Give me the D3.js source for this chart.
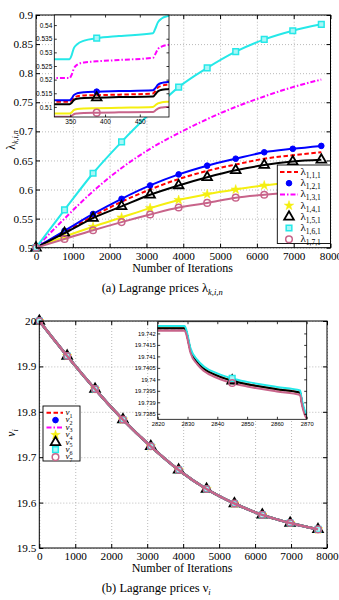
<!DOCTYPE html>
<html>
<head>
<meta charset="utf-8">
<script src="https://cdn.jsdelivr.net/npm/d3@7"></script>
<style>
  body { margin: 0; background: #fff; }
  svg text { font-family: "Liberation Serif", "Times New Roman", serif; fill: #000; }
</style>
</head>
<body>
<div id="chart"></div>
<script>
// ---- data ----
const iterations = [0, 775, 1550, 2325, 3100, 3875, 4650, 5425, 6200, 6975, 7750];
const lambda111 = [0.5, 0.527, 0.554, 0.579, 0.600, 0.618, 0.632, 0.643, 0.653, 0.659, 0.664];
const lambda121 = [0.5, 0.529, 0.558, 0.584, 0.607, 0.626, 0.641, 0.653, 0.664, 0.670, 0.675];
const lambda131 = [0.5, 0.550, 0.597, 0.637, 0.670, 0.697, 0.721, 0.742, 0.760, 0.776, 0.789];
const lambda141 = [0.5, 0.519, 0.536, 0.552, 0.568, 0.582, 0.592, 0.600, 0.607, 0.612, 0.615];
const lambda151 = [0.5, 0.525, 0.551, 0.571, 0.591, 0.607, 0.621, 0.633, 0.642, 0.648, 0.651];
const lambda161 = [0.5, 0.565, 0.628, 0.682, 0.731, 0.776, 0.809, 0.837, 0.858, 0.873, 0.884];
const lambda171 = [0.5, 0.515, 0.530, 0.544, 0.557, 0.569, 0.577, 0.586, 0.591, 0.595, 0.598];

// zoomed window of the lambda plot
const zoomIter = [320, 349, 352, 355, 360, 370, 388, 420, 469, 472, 476, 482, 490, 500];
const zoom111 = [0.5119, 0.5119, 0.5124, 0.5134, 0.5139, 0.5142, 0.5143, 0.5145, 0.5149, 0.5157, 0.5171, 0.5178, 0.5182, 0.5184];
const zoom121 = [0.5124, 0.5124, 0.5131, 0.5143, 0.5150, 0.5154, 0.5156, 0.5158, 0.5161, 0.5168, 0.5181, 0.5188, 0.5191, 0.5193];
const zoom131 = [0.5206, 0.5206, 0.5218, 0.5240, 0.5255, 0.5263, 0.5267, 0.5272, 0.5280, 0.5292, 0.5312, 0.5322, 0.5327, 0.5331];
const zoom141 = [0.5076, 0.5076, 0.5080, 0.5088, 0.5092, 0.5094, 0.5095, 0.5097, 0.5100, 0.5105, 0.5113, 0.5117, 0.5119, 0.5120];
const zoom151 = [0.5110, 0.5110, 0.5115, 0.5125, 0.5130, 0.5133, 0.5134, 0.5136, 0.5138, 0.5145, 0.5157, 0.5163, 0.5165, 0.5167];
const zoom161 = [0.5275, 0.5275, 0.5290, 0.5315, 0.5330, 0.5343, 0.5352, 0.5360, 0.5370, 0.5385, 0.5410, 0.5425, 0.5433, 0.5440];
const zoom171 = [0.5064, 0.5064, 0.5067, 0.5073, 0.5076, 0.5078, 0.5079, 0.5080, 0.5081, 0.5086, 0.5094, 0.5098, 0.5100, 0.5101];

// nu prices (all seven users lie on top of each other at this scale)
const nuMain = [20, 19.923, 19.850, 19.783, 19.724, 19.672, 19.630, 19.598, 19.573, 19.555, 19.541];

// zoomed window of the nu plot
const nuZoomIter = [2815, 2829, 2829.6, 2830, 2831, 2833.3, 2835.5, 2840, 2845, 2850, 2860, 2867.8, 2868.3, 2869.2, 2870, 2872];
const nuZoomUpper = [19.74232, 19.74232, 19.74216, 19.74195, 19.74136, 19.74085, 19.74056, 19.74026, 19.74004, 19.73989, 19.73967, 19.73952, 19.73916, 19.73870, 19.73848, 19.73810];
const nuZoomMiddle = [19.74222, 19.74222, 19.74206, 19.74185, 19.74126, 19.74075, 19.74046, 19.74016, 19.73994, 19.73979, 19.73957, 19.73942, 19.73906, 19.73860, 19.73838, 19.73800];
const nuZoomLower = [19.74212, 19.74212, 19.74196, 19.74175, 19.74116, 19.74065, 19.74036, 19.74006, 19.73984, 19.73969, 19.73947, 19.73932, 19.73896, 19.73850, 19.73828, 19.73790];

// ticks
const iterTicks = [0, 1000, 2000, 3000, 4000, 5000, 6000, 7000, 8000];
const lambdaTicks = [0.5, 0.55, 0.6, 0.65, 0.7, 0.75, 0.8, 0.85, 0.9];
const lambdaTickLabels = ["0.5", "0.55", "0.6", "0.65", "0.7", "0.75", "0.8", "0.85", "0.9"];
const zoomIterTicks = [350, 400, 450];
const zoomLambdaTicks = [0.51, 0.515, 0.52, 0.525, 0.53, 0.535, 0.54];
const zoomLambdaLabels = ["0.51", "0.515", "0.52", "0.525", "0.53", "0.535", "0.54"];
const nuTicks = [19.5, 19.6, 19.7, 19.8, 19.9, 20];
const nuTickLabels = ["19.5", "19.6", "19.7", "19.8", "19.9", "20"];
const nuZoomIterTicks = [2820, 2830, 2840, 2850, 2860, 2870];
const nuZoomTicks = [19.7385, 19.739, 19.7395, 19.74, 19.7405, 19.741, 19.7415, 19.742];
const nuZoomLabels = ["19.7385", "19.739", "19.7395", "19.74", "19.7405", "19.741", "19.7415", "19.742"];

// ---- styles ----
const styles = [
  { sub: "1", color: "#ff0000", dash: "4.5,2.5", marker: null },
  { sub: "2", color: "#0000ff", dash: null, marker: "dot" },
  { sub: "3", color: "#ff00ff", dash: "5,2,1.5,2", marker: null },
  { sub: "4", color: "#f5ef10", dash: null, marker: "star" },
  { sub: "5", color: "#000000", dash: null, marker: "triangle" },
  { sub: "6", color: "#25e8e8", dash: null, marker: "square" },
  { sub: "7", color: "#c8648a", dash: null, marker: "circle" },
];
const lambdaMain = [lambda111, lambda121, lambda131, lambda141, lambda151, lambda161, lambda171];
const lambdaZoom = [zoom111, zoom121, zoom131, zoom141, zoom151, zoom161, zoom171];
const nuZoom = [nuZoomMiddle, nuZoomMiddle, nuZoomMiddle, nuZoomMiddle, nuZoomMiddle, nuZoomUpper, nuZoomLower];
const drawOrder = [0, 1, 2, 3, 4, 5, 6];

const svg = d3.select("#chart").append("svg").attr("width", 339).attr("height", 600);

function drawMarker(g, type, cx, cy, color) {
  if (type === "dot") {
    g.append("circle").attr("cx", cx).attr("cy", cy).attr("r", 2.8)
      .attr("fill", color).attr("stroke", color);
  } else if (type === "circle") {
    g.append("circle").attr("cx", cx).attr("cy", cy).attr("r", 3.3)
      .attr("fill", "none").attr("stroke", color).attr("stroke-width", 1.5);
  } else if (type === "triangle") {
    g.append("path").attr("d", d3.symbol(d3.symbolTriangle, 40)())
      .attr("transform", `translate(${cx},${cy})`)
      .attr("fill", "none").attr("stroke", color).attr("stroke-width", 1.8);
  } else if (type === "square") {
    g.append("path").attr("d", d3.symbol(d3.symbolSquare, 32)())
      .attr("transform", `translate(${cx},${cy})`)
      .attr("fill", "#a8f6f6").attr("stroke", color).attr("stroke-width", 1.5);
  } else if (type === "star") {
    g.append("path").attr("d", d3.symbol(d3.symbolStar, 28)())
      .attr("transform", `translate(${cx},${cy})`)
      .attr("fill", color).attr("stroke", color).attr("stroke-width", 0.5);
  }
}

function drawGrid(box, x, y, xTicks, yTicks) {
  const g = svg.append("g");
  g.append("g")
    .attr("transform", `translate(0,${box.bottom})`)
    .call(d3.axisBottom(x).tickValues(xTicks).tickSize(-(box.bottom - box.top)).tickFormat(""));
  g.append("g")
    .attr("transform", `translate(${box.left},0)`)
    .call(d3.axisLeft(y).tickValues(yTicks).tickSize(-(box.right - box.left)).tickFormat(""));
  g.selectAll(".domain").remove();
  g.selectAll(".tick line")
    .attr("stroke", "#a8a8a8").attr("stroke-width", 0.8).attr("stroke-dasharray", "1,2");
}

function drawFrame(box, x, y, xTicks, yTicks, yLabels, opts) {
  const g = svg.append("g");
  const len = opts.tickLen;
  g.append("g").attr("transform", `translate(0,${box.bottom})`)
    .call(d3.axisBottom(x).tickValues(xTicks).tickSizeInner(-len).tickSizeOuter(0)
      .tickPadding(opts.xPad).tickFormat(d => d));
  g.append("g").attr("transform", `translate(${box.left},0)`)
    .call(d3.axisLeft(y).tickValues(yTicks).tickSizeInner(-len).tickSizeOuter(0)
      .tickPadding(opts.yPad).tickFormat((d, i) => yLabels[i]));
  g.append("g").attr("transform", `translate(0,${box.top})`)
    .call(d3.axisTop(x).tickValues(xTicks).tickSizeInner(-len).tickSizeOuter(0).tickFormat(""));
  g.append("g").attr("transform", `translate(${box.right},0)`)
    .call(d3.axisRight(y).tickValues(yTicks).tickSizeInner(-len).tickSizeOuter(0).tickFormat(""));
  g.selectAll(".domain").remove();
  g.selectAll("g").attr("font-family", opts.font).attr("font-size", opts.fontSize);
  g.selectAll(".tick line").attr("stroke", "#000").attr("stroke-width", opts.stroke);
  g.selectAll(".tick text")
    .style("font-family", opts.font).style("font-size", opts.fontSize + "px").attr("fill", "#000");
  g.append("rect")
    .attr("x", box.left).attr("y", box.top)
    .attr("width", box.right - box.left).attr("height", box.bottom - box.top)
    .attr("fill", "none").attr("stroke", "#000").attr("stroke-width", opts.stroke);
}

function drawSeries(g, xs, series, x, y, lineWidth, markerAt) {
  drawOrder.forEach(i => {
    const s = styles[i];
    const vals = series[i];
    const line = d3.line()
      .x((d, j) => x(xs[j]))
      .y(d => y(d))
      .curve(d3.curveMonotoneX);
    g.append("path")
      .attr("d", line(vals))
      .attr("fill", "none")
      .attr("stroke", s.color)
      .attr("stroke-width", lineWidth)
      .attr("stroke-dasharray", s.dash);
    if (s.marker) {
      markerAt.forEach(j => drawMarker(g, s.marker, x(xs[j]), y(vals[j]), s.color));
    }
  });
}

function subText(g, x, y, main, sub, size, subSize, anchor, italicMain, italicSub) {
  const t = g.append("text").attr("x", x).attr("y", y)
    .attr("text-anchor", anchor || "start").style("font-size", size + "px");
  t.append("tspan").text(main).style("font-style", italicMain ? "italic" : "normal");
  t.append("tspan").attr("dy", size * 0.28).style("font-size", subSize + "px")
    .style("font-style", italicSub ? "italic" : "normal").text(sub);
  return t;
}

// ================= (a) lambda panel =================
const boxA = { left: 36, right: 330.5, top: 15, bottom: 247.7 };
const xA = d3.scaleLinear().domain([0, 8000]).range([boxA.left, boxA.right]);
const yA = d3.scaleLinear().domain([0.5, 0.9]).range([boxA.bottom, boxA.top]);

drawGrid(boxA, xA, yA, iterTicks, lambdaTicks);
const plotA = svg.append("g");
drawSeries(plotA, iterations, lambdaMain, xA, yA, 2, d3.range(iterations.length));
drawFrame(boxA, xA, yA, iterTicks, lambdaTicks, lambdaTickLabels,
  { tickLen: 4, xPad: 4, yPad: 3, stroke: 1, font: "Liberation Serif", fontSize: 11.2 });

// inset of panel (a)
const insA = { left: 54.3, right: 169, top: 15, bottom: 117 };
const xIA = d3.scaleLinear().domain([327, 492]).range([insA.left, insA.right]);
const yIA = d3.scaleLinear().domain([0.5063, 0.5437]).range([insA.bottom, insA.top]);
svg.append("rect").attr("x", insA.left).attr("y", insA.top)
  .attr("width", insA.right - insA.left).attr("height", insA.bottom - insA.top).attr("fill", "#fff");
svg.append("clipPath").attr("id", "clipA").append("rect")
  .attr("x", insA.left).attr("y", insA.top)
  .attr("width", insA.right - insA.left).attr("height", insA.bottom - insA.top);
const insetA = svg.append("g").attr("clip-path", "url(#clipA)");
drawSeries(insetA, zoomIter, lambdaZoom, xIA, yIA, 2, []);
[[1, "dot"], [4, "triangle"], [5, "square"], [6, "circle"]].forEach(([i, m]) => {
  drawMarker(insetA, m, xIA(zoomIter[6]), yIA(lambdaZoom[i][6]), styles[i].color);
});
drawFrame(insA, xIA, yIA, zoomIterTicks, zoomLambdaTicks, zoomLambdaLabels,
  { tickLen: 2.5, xPad: 2.5, yPad: 2, stroke: 0.8, font: "Liberation Sans", fontSize: 6.5 });

// legend (a)
const legA = svg.append("g");
legA.append("rect").attr("x", 277.3).attr("y", 165).attr("width", 53.2).attr("height", 78.5)
  .attr("fill", "#fff").attr("stroke", "#000").attr("stroke-width", 0.9);
styles.forEach((s, i) => {
  const cy = 172 + i * 11.2;
  if (!s.marker) {
    legA.append("line").attr("x1", 280).attr("x2", 298).attr("y1", cy).attr("y2", cy)
      .attr("stroke", s.color).attr("stroke-width", 2).attr("stroke-dasharray", s.dash);
  } else {
    drawMarker(legA, s.marker, 289, cy, s.color);
  }
  subText(legA, 300.5, cy + 3, "λ", "1," + s.sub + ",1", 11, 7.5, "start", false, false);
});

// labels (a)
svg.append("text").attr("x", 182.5).attr("y", 271.5).attr("text-anchor", "middle")
  .style("font-size", "12px").text("Number of Iterations");
const yLabA = svg.append("g").attr("transform", "translate(15,140) rotate(-90)");
subText(yLabA, 0, 0, "λ", "k,i,n", 11.5, 8, "middle", false, true);
subText(svg, 101.7, 291.5, "(a)  Lagrange prices λ", "k,i,n", 12.5, 8.5, "start", false, true);

// ================= (b) nu panel =================
const boxB = { left: 39.3, right: 327, top: 321, bottom: 548 };
const xB = d3.scaleLinear().domain([0, 8000]).range([boxB.left, boxB.right]);
const yB = d3.scaleLinear().domain([19.5, 20]).range([boxB.bottom, boxB.top]);

drawGrid(boxB, xB, yB, iterTicks, nuTicks);
const plotB = svg.append("g");
drawSeries(plotB, iterations, styles.map(() => nuMain), xB, yB, 2.5, d3.range(iterations.length));
drawFrame(boxB, xB, yB, iterTicks, nuTicks, nuTickLabels,
  { tickLen: 4, xPad: 4, yPad: 3, stroke: 1, font: "Liberation Serif", fontSize: 11.2 });

// inset of panel (b)
const insB = { left: 157.7, right: 306.7, top: 321.7, bottom: 419.3 };
const xIB = d3.scaleLinear().domain([2820, 2870]).range([insB.left, insB.right]);
const yIB = d3.scaleLinear().domain([19.73826, 19.74251]).range([insB.bottom, insB.top]);
svg.append("rect").attr("x", insB.left).attr("y", insB.top)
  .attr("width", insB.right - insB.left).attr("height", insB.bottom - insB.top).attr("fill", "#fff");
svg.append("clipPath").attr("id", "clipB").append("rect")
  .attr("x", insB.left).attr("y", insB.top)
  .attr("width", insB.right - insB.left).attr("height", insB.bottom - insB.top);
const insetB = svg.append("g").attr("clip-path", "url(#clipB)");
drawSeries(insetB, nuZoomIter, nuZoom, xIB, yIB, 2, []);
[[4, "triangle"], [5, "square"], [6, "circle"]].forEach(([i, m]) => {
  drawMarker(insetB, m, xIB(nuZoomIter[8]), yIB(nuZoom[i][8]), styles[i].color);
});
drawFrame(insB, xIB, yIB, nuZoomIterTicks, nuZoomTicks, nuZoomLabels,
  { tickLen: 2.5, xPad: 2.5, yPad: 2, stroke: 0.8, font: "Liberation Sans", fontSize: 5.8 });

// legend (b)
const legB = svg.append("g");
legB.append("rect").attr("x", 43).attr("y", 406).attr("width", 37).attr("height", 55)
  .attr("fill", "#fff").attr("stroke", "#000").attr("stroke-width", 0.9);
styles.forEach((s, i) => {
  const cy = 412.7 + i * 7.4;
  if (!s.marker) {
    legB.append("line").attr("x1", 46.5).attr("x2", 63).attr("y1", cy).attr("y2", cy)
      .attr("stroke", s.color).attr("stroke-width", 2).attr("stroke-dasharray", s.dash);
  } else {
    drawMarker(legB, s.marker, 55.5, cy, s.color);
  }
  subText(legB, 65.5, cy + 2.3, "ν", s.sub, 9, 6, "start", true, false);
});

// labels (b)
svg.append("text").attr("x", 182).attr("y", 571.5).attr("text-anchor", "middle")
  .style("font-size", "12px").text("Number of Iterations");
const yLabB = svg.append("g").attr("transform", "translate(15,433) rotate(-90)");
subText(yLabB, 0, 0, "ν", "i", 11.5, 8, "middle", true, true);
subText(svg, 101.7, 591.5, "(b)  Lagrange prices ν", "i", 12.5, 8.5, "start", false, true);
</script>
</body>
</html>
